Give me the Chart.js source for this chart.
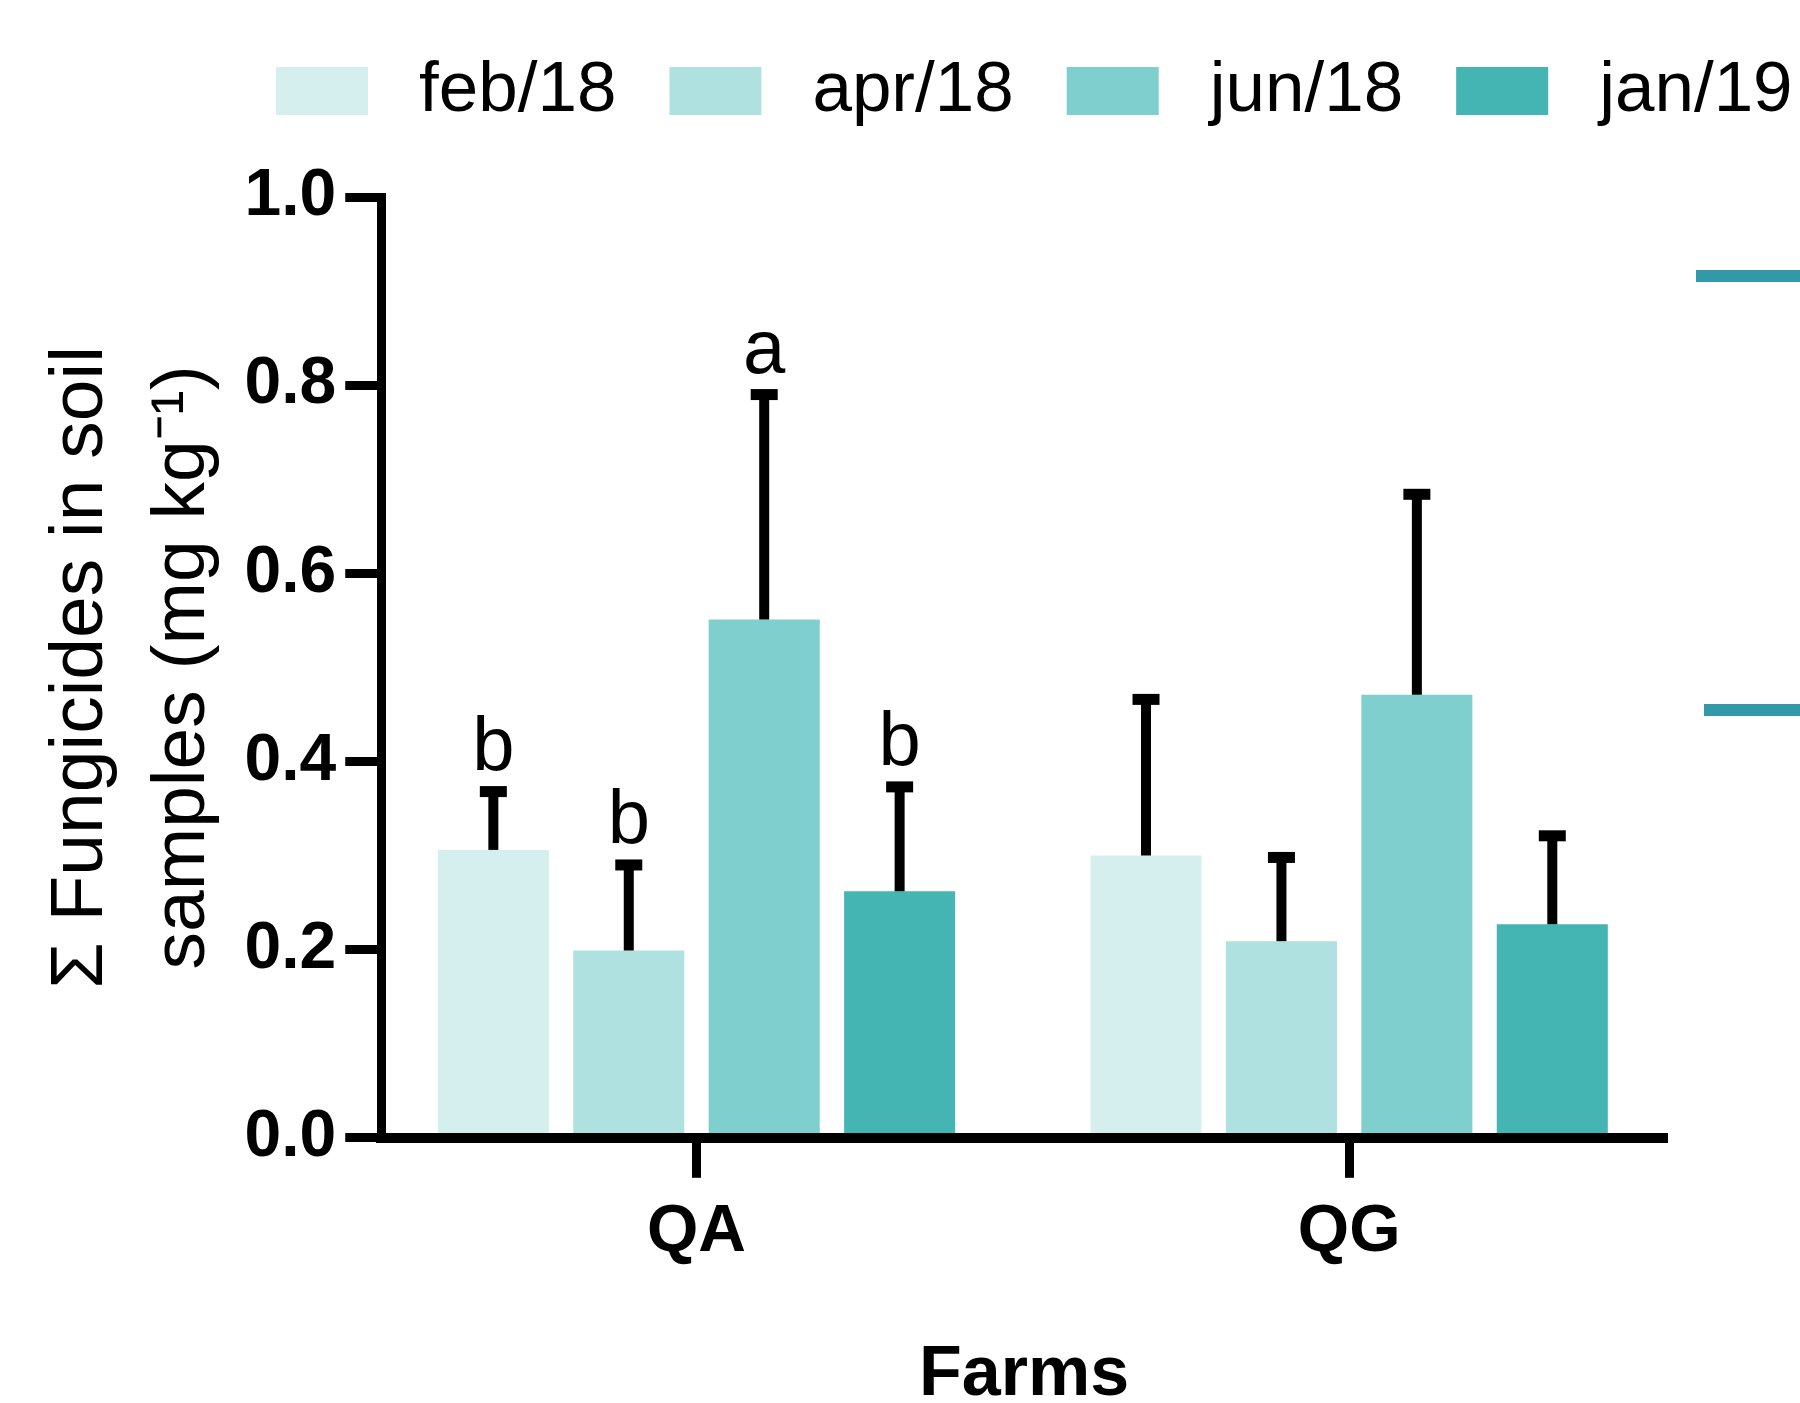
<!DOCTYPE html>
<html>
<head>
<meta charset="utf-8">
<script src="https://cdn.jsdelivr.net/npm/chart.js@4.4.1/dist/chart.umd.min.js"></script>
<style>
  html, body { margin: 0; padding: 0; background: #fff; }
  #wrap { position: relative; width: 1800px; height: 1403px; overflow: hidden; }
  .frag { position: absolute; right: 0; height: 12px; background: #3399a8; }
</style>
</head>
<body>
<div id="wrap">
  <canvas id="fungChart" width="1800" height="1403"></canvas>
  <!-- edges of the neighbouring panel -->
  <div class="frag" style="left:1696px; top:270px;"></div>
  <div class="frag" style="left:1704px; top:704px;"></div>
</div>
<script>
// data
const farms = ["QA", "QG"];
const months = ["feb/18", "apr/18", "jun/18", "jan/19"];
const monthColors = ["#d5efef", "#aee1df", "#80cfcf", "#45b5b4"];

const feb18 = [0.306, 0.300];
const apr18 = [0.199, 0.209];
const jun18 = [0.551, 0.471];
const jan19 = [0.262, 0.227];

// upper error (sd)
const feb18Sd = [0.062, 0.166];
const apr18Sd = [0.091, 0.089];
const jun18Sd = [0.239, 0.213];
const jan19Sd = [0.111, 0.094];

// letters over the QA bars
const feb18Letters = ["b", ""];
const apr18Letters = ["b", ""];
const jun18Letters = ["a", ""];
const jan19Letters = ["b", ""];

const yTicks = [0, 0.2, 0.4, 0.6, 0.8, 1.0];

const seriesValues = [feb18, apr18, jun18, jan19];
const seriesSd = [feb18Sd, apr18Sd, jun18Sd, jan19Sd];
const seriesLetters = [feb18Letters, apr18Letters, jun18Letters, jan19Letters];

Chart.defaults.font.family = "'Liberation Sans', Arial, sans-serif";
Chart.defaults.color = "#000";

// error bars + significance letters
const errorBars = {
  id: "errorBars",
  afterDatasetsDraw(chart, args, opts) {
    const ctx = chart.ctx;
    const yScale = chart.scales.y;
    chart.data.datasets.forEach((ds, i) => {
      const meta = chart.getDatasetMeta(i);
      meta.data.forEach((bar, j) => {
        const top = yScale.getPixelForValue(ds.data[j].y + ds.sd[j]);
        ctx.save();
        ctx.strokeStyle = "#000";
        ctx.lineWidth = opts.lineWidth;
        ctx.beginPath();
        ctx.moveTo(bar.x, bar.y);
        ctx.lineTo(bar.x, top);
        ctx.stroke();
        ctx.lineWidth = opts.capThickness;
        ctx.beginPath();
        ctx.moveTo(bar.x - opts.capWidth / 2, top);
        ctx.lineTo(bar.x + opts.capWidth / 2, top);
        ctx.stroke();
        const letter = ds.letters[j];
        if (letter) {
          ctx.fillStyle = "#000";
          ctx.font = opts.letterSize + "px 'Liberation Sans', Arial, sans-serif";
          ctx.textAlign = "center";
          ctx.textBaseline = "alphabetic";
          ctx.fillText(letter, bar.x, top - opts.capThickness / 2 - opts.letterGap);
        }
        ctx.restore();
      });
    });
  }
};

// legend drawn in one row across the top
const topLegend = {
  id: "topLegend",
  afterDraw(chart, args, opts) {
    const ctx = chart.ctx;
    ctx.save();
    ctx.font = opts.fontSize + "px 'Liberation Sans', Arial, sans-serif";
    ctx.textBaseline = "middle";
    ctx.textAlign = "left";
    let x = opts.x;
    chart.data.datasets.forEach(ds => {
      ctx.fillStyle = ds.backgroundColor;
      ctx.fillRect(x, opts.y, opts.boxWidth, opts.boxHeight);
      const tx = x + opts.boxWidth + opts.gap;
      ctx.fillStyle = "#000";
      ctx.fillText(ds.label, tx, opts.y + opts.boxHeight / 2);
      x = tx + ctx.measureText(ds.label).width + opts.spacing;
    });
    ctx.restore();
  }
};

const ctx = document.getElementById("fungChart").getContext("2d");
new Chart(ctx, {
  type: "bar",
  data: {
    labels: farms,
    datasets: months.map((m, i) => ({
      label: m,
      data: seriesValues[i].map((v, j) => ({ x: j, y: v })),
      sd: seriesSd[i],
      letters: seriesLetters[i],
      backgroundColor: monthColors[i],
      borderWidth: 0,
      categoryPercentage: 0.83,
      barPercentage: 0.82
    }))
  },
  options: {
    responsive: false,
    animation: false,
    layout: { padding: { top: 197, right: 133, bottom: -15, left: 0 } },
    scales: {
      x: {
        type: "linear",
        offset: false,
        min: -0.483,
        max: 1.487,
        afterBuildTicks: scale => { scale.ticks = farms.map((f, j) => ({ value: j })); },
        ticks: { callback: v => farms[v], font: { size: 66, weight: "bold" }, color: "#000", padding: 15 },
        grid: { offset: false, drawOnChartArea: false, tickLength: 40, tickWidth: 9, tickColor: "#000" },
        border: { color: "#000", width: 10, z: 1 },
        title: { display: true, text: "Farms", font: { size: 70, weight: "bold" }, color: "#000", padding: { top: 47, bottom: 0 } }
      },
      y: {
        min: 0,
        max: 1,
        afterBuildTicks: scale => { scale.ticks = yTicks.map(v => ({ value: v })); },
        ticks: { callback: v => Number(v).toFixed(1), font: { size: 66, weight: "bold" }, color: "#000", padding: 9 },
        grid: { drawOnChartArea: false, tickLength: 36, tickWidth: 9, tickColor: "#000" },
        border: { color: "#000", width: 9, z: 1 },
        title: {
          display: true,
          text: ["\u03A3 Fungicides in soil", "samples (mg kg\u207B\u00B9)"],
          font: { size: 75, lineHeight: 1.35 },
          color: "#000",
          padding: { top: 31, bottom: 2 }
        }
      }
    },
    plugins: {
      legend: { display: false },
      tooltip: { enabled: false },
      errorBars: { lineWidth: 10, capWidth: 27, capThickness: 11, letterSize: 76, letterGap: 16 },
      topLegend: { x: 276, y: 67, boxWidth: 92, boxHeight: 48, gap: 51, spacing: 53, fontSize: 71 }
    }
  },
  plugins: [errorBars, topLegend]
});
</script>
</body>
</html>
